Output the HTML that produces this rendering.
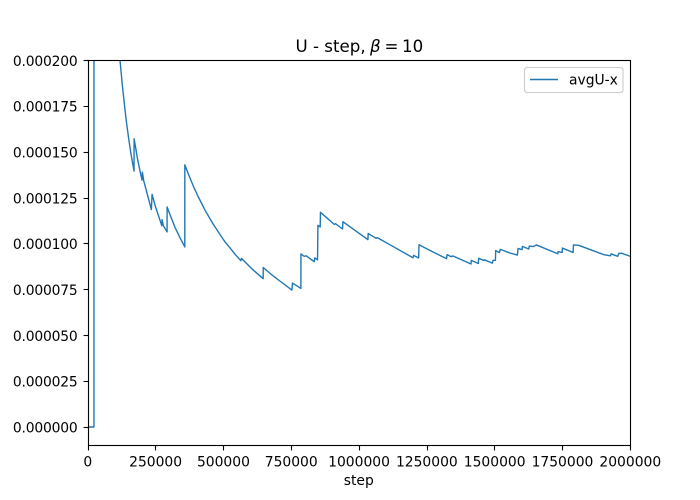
<!DOCTYPE html>
<html>
<head>
<meta charset="utf-8">
<style>
html,body{margin:0;padding:0;background:#fff;}
svg{display:block;}
text{font-family:"DejaVu Sans","Liberation Sans",sans-serif;fill:#000;}
</style>
</head>
<body>
<svg id="chart" width="700" height="500" viewBox="0 0 700 500" xmlns="http://www.w3.org/2000/svg">
<defs><clipPath id="plot-clip"><rect x="88" y="60.5" width="542.5" height="385"/></clipPath></defs>
<text y="52" font-size="16.67"><tspan x="295.5">U - step,</tspan><tspan x="370" font-style="italic">β</tspan><tspan x="384.5">=</tspan><tspan x="402">10</tspan></text>
<text x="358.75" y="485" font-size="13.89" text-anchor="middle">step</text>
<g id="ticks"></g>
<g clip-path="url(#plot-clip)"><path id="series" fill="none" stroke="#1f77b4" stroke-width="1.39" stroke-linejoin="round" transform="translate(0.5,0.33)"/></g>
<rect x="88.5" y="60.5" width="542" height="385" fill="none" stroke="#000" stroke-width="1.11"/>
<g>
<rect x="524.5" y="67.5" width="98.5" height="25" rx="2.8" fill="#fff" fill-opacity="0.8" stroke="#ccc" stroke-width="1.11"/>
<line x1="530" y1="79.5" x2="558" y2="79.5" stroke="#1f77b4" stroke-width="1.39"/>
<text x="569" y="84.5" font-size="13.89">avgU-x</text>
</g>
</svg>
<script>
var xTickValues = [0, 250000, 500000, 750000, 1000000, 1250000, 1500000, 1750000, 2000000];
var xTickLabels = ["0", "250000", "500000", "750000", "1000000", "1250000", "1500000", "1750000", "2000000"];
var yTickValues = [0, 0.000025, 0.00005, 0.000075, 0.0001, 0.000125, 0.00015, 0.000175, 0.0002];
var yTickLabels = ["0.000000", "0.000025", "0.000050", "0.000075", "0.000100", "0.000125", "0.000150", "0.000175", "0.000200"];
var stepsThousands = [0,22,22.1,50,80,118,126.6,136.5,142,148.7,157.6,169.7,170,181.9,191.9,199.3,200.4,205.5,233.6,236.2,248.3,272,273,277.9,291.5,291.6,305,321,340,356.8,357,370,388.6,405,431.7,460,487,505,524,545,563.5,565.7,607.7,645.8,646,675,708.5,751.7,753.9,784.9,785,797,804.4,833.9,836.5,846.2,847.6,856,857,907.7,912.5,938.4,939.8,1032,1033,1061.6,1066.4,1114.4,1198,1200.4,1218.8,1220.3,1262,1322,1323.7,1338.4,1345.8,1412,1413,1439,1440,1458.7,1461,1490.8,1493,1502,1503,1516.7,1520,1556,1583,1585.6,1600,1601.5,1624.7,1627,1641,1653,1731.7,1733,1748,1749,1788.5,1789.6,1809,1901.4,1926,1928.7,1953,1957,1968,2000];
var avgUxMicro = [0,0,1000,472,295,200,186.4,172.9,166,158.7,149.7,139.6,157.2,146.8,139.5,134.6,139,134.3,118.6,126.9,120.4,109.8,113.1,109.8,106.4,120,114.8,108.8,103,98.2,143,138,131.3,126,118.2,111,104.9,101,97.6,93.7,90.7,92,85.8,80.9,87,83.3,79.5,74.7,78.5,75.6,94.4,93.1,93.4,90.2,92.3,91.2,110,109.1,117.1,110.5,110.9,108,112,102.2,105.6,102.9,103.3,99.3,92.3,93.6,92.2,99.4,96.2,91.8,94,92.9,93.3,88.9,90.9,89.2,92,90.9,91.2,89.4,90.9,90.9,96.2,95.1,96.9,94.9,93.8,97.4,96.7,98.5,97.1,98.7,98.4,99.3,94.5,95.6,95.2,97.6,95.2,99.3,99.1,94,93.4,94.4,93.1,94.7,94.7,93.1];

var NS = 'http://www.w3.org/2000/svg';
function xScale(v){ return 87.5 + (v / 2000000) * 542.5; }
function yScale(v){ return 445 - ((v + 0.00001) / 0.00021) * 385; }

var tickGroup = document.getElementById('ticks');
function addTick(x1, y1, x2, y2, name){
  var t = document.createElementNS(NS, 'line');
  t.setAttribute('x1', x1); t.setAttribute('y1', y1);
  t.setAttribute('x2', x2); t.setAttribute('y2', y2);
  t.setAttribute('stroke', '#000'); t.setAttribute('stroke-width', '1.11');
  
  
  tickGroup.appendChild(t);
}
function addLabel(x, y, str, anchor, spacing, name){
  var l = document.createElementNS(NS, 'text');
  l.setAttribute('x', x); l.setAttribute('y', y);
  l.setAttribute('font-size', '13.89');
  l.setAttribute('text-anchor', anchor);
  l.setAttribute('letter-spacing', spacing);
  
  
  l.textContent = str;
  tickGroup.appendChild(l);
}
xTickValues.forEach(function(v, i){
  var x = Math.round(xScale(v)) + 0.5;
  addTick(x, 445.5, x, 450.4, 'x-axis-tick');
  addLabel(xScale(v) + 0.3, 466.5, xTickLabels[i], 'middle', '0', 'x-tick-label');
});
yTickValues.forEach(function(v, i){
  var y = Math.round(yScale(v)) + 0.5;
  addTick(88.5, y, 83.6, y, 'y-axis-tick');
  addLabel(77.5, yScale(v) + 5.9, yTickLabels[i], 'end', '-0.2', 'y-tick-label');
});

var d = '';
stepsThousands.forEach(function(s, i){
  var px = xScale(s * 1000);
  var py = yScale(avgUxMicro[i] * 1e-6);
  d += (i ? 'L' : 'M') + px.toFixed(2) + ' ' + py.toFixed(2);
});
document.getElementById('series').setAttribute('d', d);
</script>
</body>
</html>
